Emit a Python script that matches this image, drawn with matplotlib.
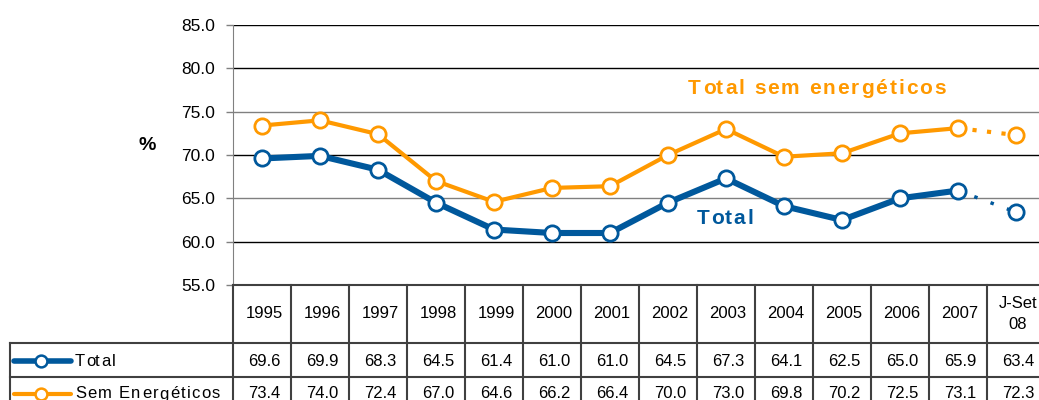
import matplotlib
matplotlib.use("Agg")
import matplotlib.pyplot as plt
from matplotlib.lines import Line2D
from matplotlib.font_manager import FontProperties

plt.rcParams["font.family"] = ["Liberation Sans", "DejaVu Sans"]

# Data
periods = ["1995", "1996", "1997", "1998", "1999", "2000", "2001", "2002",
           "2003", "2004", "2005", "2006", "2007", "J-Set\n08"]
total = [69.6, 69.9, 68.3, 64.5, 61.4, 61.0, 61.0, 64.5, 67.3, 64.1, 62.5, 65.0, 65.9, 63.4]
sem_energeticos = [73.4, 74.0, 72.4, 67.0, 64.6, 66.2, 66.4, 70.0, 73.0, 69.8, 70.2, 72.5, 73.1, 72.3]
y_ticks = [55, 60, 65, 70, 75, 80, 85]

BLUE = "#00589C"
ORANGE = "#FF9900"

W, H = 1039, 400
fig = plt.figure(figsize=(W / 100, H / 100), dpi=100)
renderer = fig.canvas.get_renderer()


# pixel helpers (top-left origin)
def fx(px):
    return px / W


def fy(py):
    return 1 - py / H


def text_w(s, prop):
    w, _, _ = renderer.get_text_width_height_descent(s, prop, ismath=False)
    return w


def spaced_text(px, py, s, size, track, ha="left", **kw):
    # draws s char by char with extra spacing (pixels), like the Excel export
    prop = FontProperties(family="Liberation Sans", size=size,
                          weight=kw.get("fontweight", "normal"))
    ref = text_w("x", prop)
    offs = [text_w(s[:k] + "x", prop) - ref + k * track for k in range(len(s))]
    total_w = text_w(s, prop) + (len(s) - 1) * track
    x0 = px - total_w / 2 if ha == "center" else px
    for ch, o in zip(s, offs):
        fig.text(fx(x0 + o), fy(py), ch, fontsize=size, ha="left", va="center", **kw)


AX_L, AX_T, AX_B = 233, 25, 285
COL_W = 58
n = len(periods)
ax = fig.add_axes([fx(AX_L), fy(AX_B), COL_W * n / W, (AX_B - AX_T) / H])
ax.set_xlim(-0.5, n - 0.5)
ax.set_ylim(55, 85)

# gridlines
for v in y_ticks:
    c = "#808080" if v in (65, 75) else "black"
    ax.axhline(v, color=c, lw=1.0, zorder=1)

ax.set_yticks(y_ticks)
ax.set_yticklabels([f"{v:.1f}" for v in y_ticks], fontsize=12.5)
ax.tick_params(axis="y", length=5, width=1, color="#808080", pad=8)
ax.set_xticks([])
for s in ["top", "right"]:
    ax.spines[s].set_visible(False)
ax.spines["left"].set_color("#808080")
ax.spines["bottom"].set_color("#404040")
ax.spines["bottom"].set_linewidth(1.5)

x = list(range(n))
ax.plot(x[:-1], sem_energeticos[:-1], color=ORANGE, lw=3, zorder=3)
ax.plot(x[-2:], sem_energeticos[-2:], color=ORANGE, lw=3, ls=(0, (1, 2.5)), zorder=3)
ax.plot(x, sem_energeticos, ls="none", marker="o", ms=11, mfc="white", mec=ORANGE, mew=2, zorder=4)

ax.plot(x[:-1], total[:-1], color=BLUE, lw=4.4, zorder=3)
ax.plot(x[-2:], total[-2:], color=BLUE, lw=2.5, ls=(0, (1, 4)), zorder=3)
ax.plot(x, total, ls="none", marker="o", ms=11, mfc="white", mec=BLUE, mew=2, zorder=4)

spaced_text(817, 88, "Total sem energéticos", 15, 1.9, ha="center",
            color=ORANGE, fontweight="bold")
spaced_text(725, 218, "Total", 15, 1.9, ha="center", color=BLUE, fontweight="bold")

fig.text(fx(147), fy(145), "%", fontsize=14, fontweight="bold", ha="center", va="center")

# table
HDR_B, ROW1_B, ROW2_B = 343, 377, 411
TBL_L = 10
right = AX_L + COL_W * n
lk = dict(color="#404040", lw=1.5, transform=fig.transFigure, clip_on=False)
fig.add_artist(Line2D([fx(TBL_L), fx(right)], [fy(HDR_B)] * 2, **lk))
fig.add_artist(Line2D([fx(TBL_L), fx(right)], [fy(ROW1_B)] * 2, **lk))
fig.add_artist(Line2D([fx(TBL_L)] * 2, [fy(HDR_B), fy(ROW2_B)], **lk))
for i in range(n + 1):
    px = AX_L + COL_W * i
    fig.add_artist(Line2D([fx(px)] * 2, [fy(AX_B), fy(ROW2_B)], **lk))

for i, lab in enumerate(periods):
    cx = fx(AX_L + COL_W * (i + 0.5) + 2)
    fig.text(cx, fy(314), lab, fontsize=12, ha="center", va="center", linespacing=1.45)
    fig.text(cx, fy(361), f"{total[i]:.1f}", fontsize=12, ha="center", va="center")
    fig.text(cx, fy(394), f"{sem_energeticos[i]:.1f}", fontsize=12, ha="center", va="center")

# legend keys in table
for row_y, col, lw, name in [(361, BLUE, 4, "Total"), (394, ORANGE, 3, "Sem Energéticos")]:
    fig.add_artist(Line2D([fx(14), fx(71)], [fy(row_y)] * 2, color=col, lw=lw,
                          solid_capstyle="round", transform=fig.transFigure))
    fig.add_artist(Line2D([fx(41)], [fy(row_y)], marker="o", ms=8.5, mfc="white",
                          mec=col, mew=1.8, transform=fig.transFigure))
    spaced_text(75, row_y, name, 12, 1.3)

fig.savefig("out.png", dpi=100)
